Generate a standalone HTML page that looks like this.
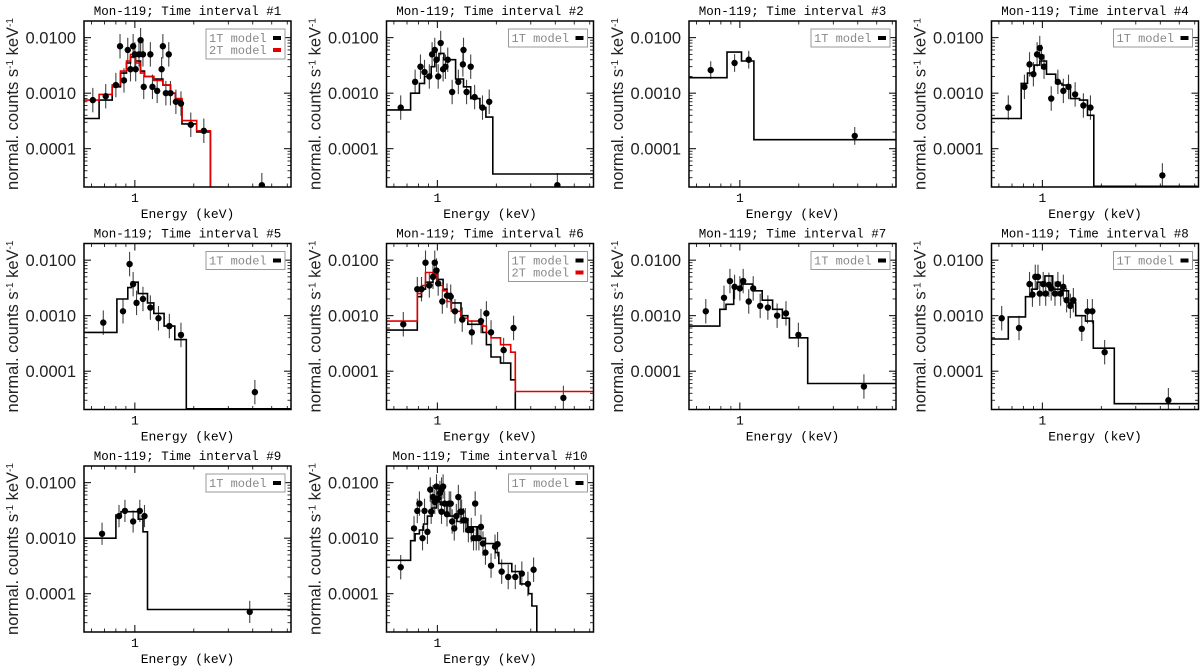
<!DOCTYPE html>
<html><head><meta charset="utf-8"><style>
html,body{margin:0;padding:0;background:#fff}
svg{display:block}
</style></head><body>
<svg id="fig" width="1200" height="672" viewBox="0 0 1200 672" xmlns="http://www.w3.org/2000/svg"></svg>
<script>
// ---- data (energies in keV, fluxes in counts/s/keV) ----
const xTickMajor = [1];
const xTickMinor = [0.6,0.7,0.8,0.9,2,3,4,5,6];
const yTickLabels = ["0.0100","0.0010","0.0001"];
const yTickValues = [0.01,0.001,0.0001];

const p1E = [0.61,0.71,0.8,0.84,0.88,0.92,0.95,0.98,1.0,1.01,1.05,1.07,1.1,1.11,1.2,1.23,1.3,1.37,1.39,1.44,1.49,1.52,1.62,1.72,1.93,2.25,4.45];
const p1F = [0.00075,0.00088,0.0014,0.007,0.0017,0.006,0.0027,0.007,0.005,0.0027,0.005,0.009,0.005,0.0013,0.005,0.0013,0.0011,0.0027,0.007,0.001,0.005,0.001,0.0007,0.00065,0.00027,0.00021,0.000022];
const p1ME = [0.55,0.657,0.766,0.845,0.907,0.95,1.008,1.069,1.12,1.25,1.39,1.52,1.61,1.74,2.07,2.43,6.3];
const p1M1 = [0.00035,0.00075,0.0013,0.0023,0.0035,0.0045,0.0038,0.0025,0.002,0.0018,0.0014,0.001,0.00075,0.00028,0.0002,1e-6];
const p1M2 = [0.00075,0.00095,0.0014,0.0025,0.0038,0.005,0.0035,0.0023,0.002,0.0017,0.0014,0.001,0.0008,0.00032,0.00021,1e-6];

const p2E = [0.65,0.77,0.82,0.86,0.91,0.94,0.97,0.99,1.01,1.04,1.07,1.1,1.13,1.19,1.28,1.35,1.36,1.41,1.48,1.55,1.7,1.84,4.1];
const p2F = [0.00055,0.0016,0.003,0.0024,0.002,0.005,0.006,0.004,0.002,0.008,0.0027,0.003,0.004,0.00105,0.0016,0.0033,0.006,0.00105,0.003,0.00085,0.00055,0.0007,0.000022];
const p2ME = [0.55,0.73,0.81,0.86,0.93,0.97,1.02,1.08,1.24,1.36,1.48,1.65,1.77,1.92,6.3];
const p2M1 = [0.0005,0.001,0.0015,0.002,0.003,0.004,0.0052,0.004,0.0018,0.0013,0.0008,0.00055,0.00037,0.000035];

const p3E = [0.71,0.94,1.11,3.86];
const p3F = [0.0026,0.0035,0.004,0.00017];
const p3ME = [0.55,0.86,1.02,1.18,6.3];
const p3M1 = [0.0019,0.0055,0.0038,0.000145];

const p4E = [0.67,0.81,0.86,0.9,0.94,0.97,0.99,1.02,1.11,1.2,1.28,1.36,1.47,1.62,1.76,4.1];
const p4F = [0.00055,0.0013,0.0033,0.0022,0.005,0.0065,0.0045,0.003,0.0008,0.0016,0.0011,0.0013,0.00095,0.0006,0.00055,0.000033];
const p4ME = [0.55,0.78,0.84,0.91,0.97,1.05,1.17,1.26,1.39,1.55,1.7,1.83,6.2];
const p4M1 = [0.00035,0.0015,0.0023,0.0032,0.0038,0.0022,0.0015,0.0014,0.0008,0.00075,0.0004,0.000021];

const p5E = [0.69,0.87,0.94,0.98,1.02,1.1,1.2,1.32,1.5,1.72,4.1];
const p5F = [0.00075,0.0012,0.0085,0.0037,0.0017,0.002,0.0014,0.0009,0.00065,0.00045,0.000042];
const p5ME = [0.55,0.81,0.92,0.96,1.04,1.16,1.25,1.41,1.6,1.83,6.3];
const p5M1 = [0.0005,0.002,0.0032,0.004,0.0025,0.0017,0.0011,0.00065,0.00037,0.000021];

const p6E = [0.67,0.79,0.83,0.87,0.91,0.95,0.97,0.99,1.01,1.06,1.12,1.17,1.23,1.34,1.5,1.67,1.78,1.88,2.18,2.45,4.4];
const p6F = [0.0007,0.003,0.003,0.009,0.0035,0.005,0.009,0.0065,0.0038,0.0018,0.0023,0.0022,0.0012,0.00085,0.0005,0.0008,0.0011,0.0005,0.00024,0.0006,0.000033];
const p6ME1 = [0.55,0.79,0.83,0.87,0.95,1.0,1.07,1.12,1.18,1.32,1.43,1.7,1.78,1.88,2.1,2.37,2.5,6.3];
const p6M1 = [0.00055,0.0022,0.003,0.004,0.006,0.0045,0.003,0.0025,0.0017,0.001,0.0007,0.0005,0.0003,0.00018,0.00014,0.00007,1e-6];
const p6ME2 = [0.55,0.79,0.83,0.87,0.95,1.0,1.07,1.12,1.18,1.32,1.43,1.7,1.78,1.88,2.1,2.37,2.5,6.3];
const p6M2 = [0.0008,0.0025,0.0035,0.006,0.0055,0.0035,0.0028,0.0018,0.0012,0.0009,0.0008,0.00065,0.0005,0.0004,0.0003,0.00022,0.000043];

const p7E = [0.67,0.83,0.89,0.94,1.0,1.04,1.11,1.17,1.27,1.39,1.55,1.72,1.99,4.3];
const p7F = [0.0012,0.0021,0.0042,0.0033,0.0031,0.0042,0.0018,0.0031,0.0015,0.0014,0.001,0.0011,0.00045,0.000053];
const p7ME = [0.55,0.79,0.85,0.93,1.02,1.16,1.3,1.47,1.65,1.79,2.22,6.3];
const p7M1 = [0.00065,0.0013,0.0016,0.0032,0.0037,0.0028,0.0019,0.0013,0.0009,0.0004,0.00006];

const p8E = [0.62,0.76,0.86,0.89,0.92,0.95,0.97,1.01,1.04,1.08,1.11,1.16,1.2,1.24,1.28,1.33,1.39,1.44,1.59,1.7,1.8,2.08,4.4];
const p8F = [0.0009,0.0006,0.0037,0.0024,0.005,0.005,0.0025,0.0037,0.0025,0.0036,0.0031,0.0025,0.0037,0.0025,0.0033,0.0019,0.0015,0.0019,0.00058,0.0012,0.0012,0.00022,0.00003];
const p8ME = [0.55,0.67,0.82,0.88,0.94,1.03,1.13,1.24,1.36,1.48,1.66,1.82,2.33,6.3];
const p8M1 = [0.00038,0.00095,0.0022,0.003,0.004,0.0052,0.003,0.0028,0.0017,0.001,0.0008,0.00026,0.000026];

const p9E = [0.68,0.83,0.89,0.98,1.06,1.12,3.86];
const p9F = [0.0012,0.0025,0.0031,0.002,0.0031,0.0025,0.000047];
const p9ME = [0.55,0.8,0.85,1.04,1.1,1.16,6.3];
const p9M1 = [0.001,0.0026,0.003,0.0022,0.0013,0.000052];

const p10E = [0.65,0.76,0.79,0.81,0.84,0.86,0.89,0.92,0.93,0.95,0.97,0.99,1.01,1.03,1.05,1.07,1.05,1.09,1.12,1.15,1.17,1.19,1.22,1.25,1.28,1.31,1.33,1.36,1.39,1.44,1.49,1.53,1.56,1.58,1.63,1.67,1.71,1.76,1.88,1.97,2.03,2.13,2.3,2.5,2.7,2.9,3.1];
const p10F = [0.0003,0.0015,0.0031,0.0042,0.001,0.0031,0.0013,0.0075,0.003,0.0055,0.0045,0.0085,0.0052,0.0065,0.0075,0.0085,0.003,0.0042,0.0027,0.0042,0.0042,0.002,0.0015,0.0025,0.0055,0.003,0.003,0.0021,0.0021,0.0014,0.0014,0.001,0.0042,0.001,0.001,0.0016,0.0008,0.00055,0.00032,0.0007,0.00078,0.00025,0.0002,0.0002,0.00023,0.00015,0.00027];
const p10ME = [0.55,0.73,0.77,0.81,0.85,0.89,0.94,0.99,1.04,1.12,1.26,1.42,1.6,1.76,1.98,2.06,2.4,2.65,2.92,3.04,3.22,6.3];
const p10M1 = [0.0004,0.0009,0.0012,0.0014,0.0018,0.0025,0.0035,0.0045,0.004,0.0025,0.002,0.0016,0.001,0.0008,0.00055,0.00035,0.00025,0.00015,0.0001,0.00006,1e-6];

const errDex = [0.22,0.22,0.16,0.22,0.22,0.22,0.22,0.22,0.2,0.22];

const panels = [
 {n:1,E:p1E,F:p1F,models:[{e:p1ME,v:p1M1,c:"#000"},{e:p1ME,v:p1M2,c:"#e00000"}],two:true},
 {n:2,E:p2E,F:p2F,models:[{e:p2ME,v:p2M1,c:"#000"}]},
 {n:3,E:p3E,F:p3F,models:[{e:p3ME,v:p3M1,c:"#000"}]},
 {n:4,E:p4E,F:p4F,models:[{e:p4ME,v:p4M1,c:"#000"}]},
 {n:5,E:p5E,F:p5F,models:[{e:p5ME,v:p5M1,c:"#000"}]},
 {n:6,E:p6E,F:p6F,models:[{e:p6ME1,v:p6M1,c:"#000"},{e:p6ME2,v:p6M2,c:"#e00000"}],two:true},
 {n:7,E:p7E,F:p7F,models:[{e:p7ME,v:p7M1,c:"#000"}]},
 {n:8,E:p8E,F:p8F,models:[{e:p8ME,v:p8M1,c:"#000"}]},
 {n:9,E:p9E,F:p9F,models:[{e:p9ME,v:p9M1,c:"#000"}]},
 {n:10,E:p10E,F:p10F,models:[{e:p10ME,v:p10M1,c:"#000"}]}
];

// ---- drawing ----
const NS="http://www.w3.org/2000/svg";
const svg=document.getElementById("fig");
const W=207,H=166,XMIN=0.55,XMAX=6.27,LYMAX=-1.70,LYMIN=-4.69;
function mk(tag,attrs,parent){const e=document.createElementNS(NS,tag);for(const k in attrs)e.setAttribute(k,attrs[k]);(parent||svg).appendChild(e);return e;}

panels.forEach((p,i)=>{
  const col=i%4,row=Math.floor(i/4);
  const L=84+col*302.5,T=21+row*222.5;
  const xs=E=>L+(Math.log10(E)-Math.log10(XMIN))/(Math.log10(XMAX)-Math.log10(XMIN))*W;
  const ys=F=>T+(LYMAX-Math.log10(Math.max(F,1e-8)))/(LYMAX-LYMIN)*H;
  const g=mk("g",{});
  
  
  const cp=mk("clipPath",{id:"cp"+p.n},g);
  mk("rect",{x:L,y:T,width:W,height:H},cp);

  // title
  const t=mk("text",{x:L+W/2,y:T-6,"text-anchor":"middle","font-family":"Liberation Mono, monospace","font-size":"12.5"},g);
  t.textContent="Mon-119; Time interval #"+p.n;
  
  

  // y label
  const yl=mk("text",{x:0,y:0,transform:`translate(${L-66},${T+H/2}) rotate(-90)`,"text-anchor":"middle","font-family":"Liberation Sans, sans-serif","font-size":"16.5",fill:"#222"},g);
  yl.innerHTML='normal. counts s<tspan baseline-shift="super" font-size="10">-1</tspan> keV<tspan baseline-shift="super" font-size="10">-1</tspan>';
  
  

  // x label
  const xl=mk("text",{x:L+W/2,y:T+H+31,"text-anchor":"middle","font-family":"Liberation Mono, monospace","font-size":"13"},g);
  xl.textContent="Energy (keV)";
  
  

  // y ticks
  yTickValues.forEach((v,k)=>{
    const y=ys(v);
    mk("line",{x1:L,x2:L+7,y1:y,y2:y,stroke:"#000","stroke-width":1},g);
    mk("line",{x1:L+W,x2:L+W-7,y1:y,y2:y,stroke:"#000","stroke-width":1},g);
    const tl=mk("text",{x:L-8,y:y+6,"text-anchor":"end","font-family":"Liberation Sans, sans-serif","font-size":"16.5",fill:"#222"},g);
    tl.textContent=yTickLabels[k];
    
    
  });
  for(let d=-5;d<=-2;d++){for(let m=2;m<=9;m++){const v=m*Math.pow(10,d);const lv=Math.log10(v);if(lv<LYMIN||lv>LYMAX)continue;const y=ys(v);
    mk("line",{x1:L,x2:L+3.5,y1:y,y2:y,stroke:"#000","stroke-width":0.8},g);
    mk("line",{x1:L+W,x2:L+W-3.5,y1:y,y2:y,stroke:"#000","stroke-width":0.8},g);}}
  // x ticks
  xTickMajor.forEach(v=>{const x=xs(v);
    mk("line",{x1:x,x2:x,y1:T+H,y2:T+H-7,stroke:"#000","stroke-width":1},g);
    mk("line",{x1:x,x2:x,y1:T,y2:T+7,stroke:"#000","stroke-width":1},g);
    const tl=mk("text",{x:x,y:T+H+15,"text-anchor":"middle","font-family":"Liberation Mono, monospace","font-size":"13"},g);
    tl.textContent=String(v);
    
    
  });
  xTickMinor.forEach(v=>{const x=xs(v);if(x<L||x>L+W)return;
    mk("line",{x1:x,x2:x,y1:T+H,y2:T+H-3.5,stroke:"#000","stroke-width":0.8},g);
    mk("line",{x1:x,x2:x,y1:T,y2:T+3.5,stroke:"#000","stroke-width":0.8},g);});

  // error bars + points
  const ed=errDex[i];
  const pg=mk("g",{"clip-path":`url(#cp${p.n})`},g);
  p.E.forEach((e,k)=>{const x=xs(e),f=p.F[k];
    const eb=mk("line",{x1:x,x2:x,y1:ys(f*Math.pow(10,ed)),y2:ys(f/Math.pow(10,ed)),stroke:"#444","stroke-width":1.1},pg);
    
    
  });
  // models
  p.models.forEach((m,mi)=>{
    let d="";
    for(let k=0;k<m.v.length;k++){const x0=xs(m.e[k]),x1=xs(m.e[k+1]),y=ys(m.v[k]);
      d+=(k===0?"M":"L")+x0.toFixed(1)+","+y.toFixed(1)+"L"+x1.toFixed(1)+","+y.toFixed(1);}
    const path=mk("path",{d:d,fill:"none",stroke:m.c,"stroke-width":1.6},pg);
    
    
  });
  p.E.forEach((e,k)=>{
    const c=mk("circle",{cx:xs(e),cy:ys(p.F[k]),r:3.2,fill:"#000"},pg);
    
    
  });

  // frame
  const fr=mk("rect",{x:L,y:T,width:W,height:H,fill:"none",stroke:"#000","stroke-width":1.5},g);
  
  

  // legend
  const lg=mk("g",{},g);
  
  
  const lx=L+122,ly=T+8,lh=p.two?26:14;
  mk("rect",{x:lx,y:ly,width:79,height:lh+4,fill:"#fff",stroke:"#999","stroke-width":1},lg);
  const labels=p.two?["1T model","2T model"]:["1T model"];
  labels.forEach((s,k)=>{
    const tx=mk("text",{x:lx+3,y:ly+13+k*12,"font-family":"Liberation Mono, monospace","font-size":"12",fill:"#888"},lg);
    tx.textContent=s;
    
    
    mk("rect",{x:lx+67,y:ly+7+k*12,width:8,height:4,fill:k===0?"#000":"#e00000"},lg);
  });
});
</script>
</body></html>
